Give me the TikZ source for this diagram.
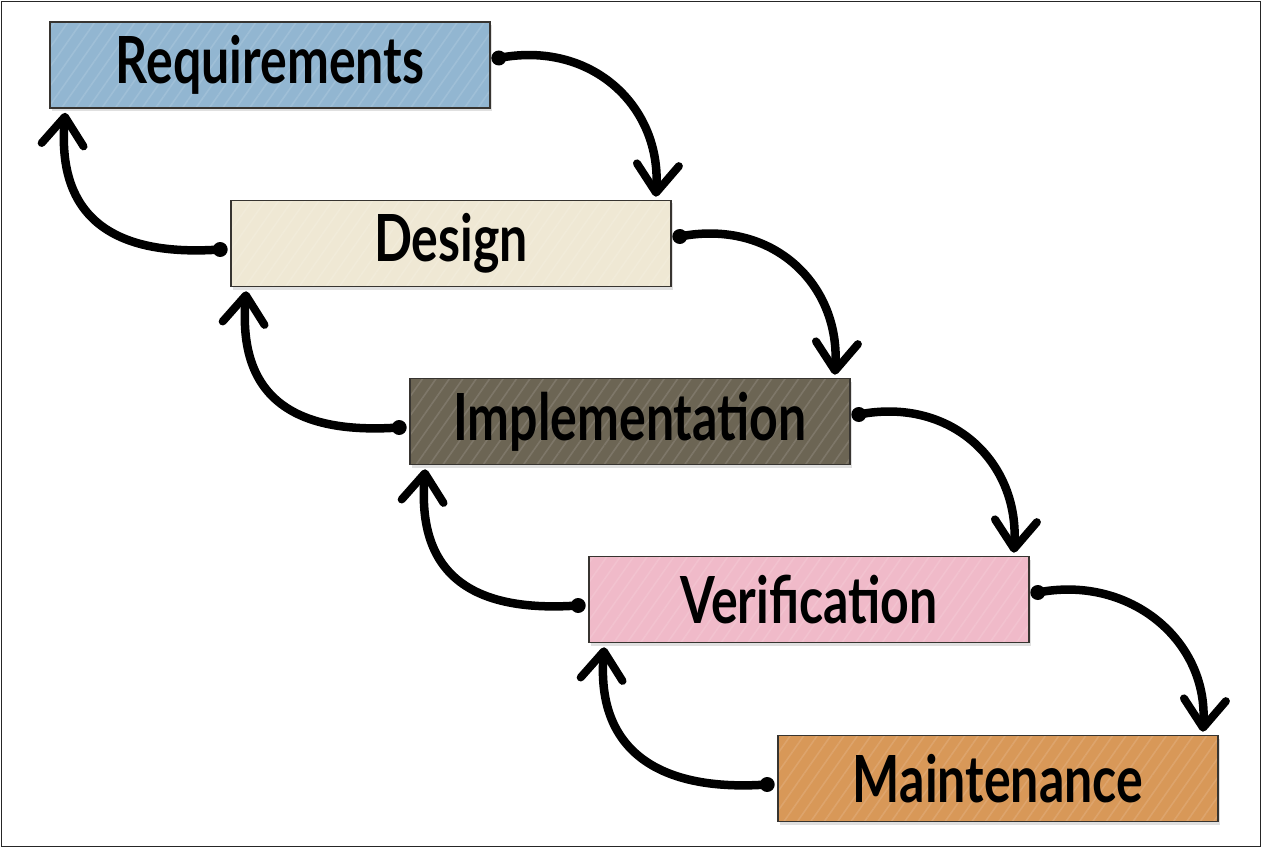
\documentclass[tikz,border=0pt]{standalone}
\usepackage{fontspec}
\setmainfont{Lato}[FakeStretch=0.77]
\usetikzlibrary{arrows.meta,calc,patterns.meta}
\definecolor{reqc}{RGB}{146,182,209}
\definecolor{desc}{RGB}{239,232,212}
\definecolor{impc}{RGB}{108,101,84}
\definecolor{verc}{RGB}{240,186,201}
\definecolor{maic}{RGB}{216,152,88}
\definecolor{edgec}{RGB}{55,52,48}
\tikzset{
  phase/.style={draw=edgec, line width=1.6pt, minimum width=440pt, minimum height=86pt,
    inner sep=0pt, font=\fontsize{65}{67}\selectfont\bfseries, text=black, fill=#1,
    preaction={fill=black, fill opacity=0.12, transform canvas={shift={(2pt,-3pt)}}},
    postaction={pattern={Lines[angle=55,distance=11pt,line width=1.6pt]}, pattern color=#1!88!white},
    postaction={draw=edgec, line width=1.6pt}},
  flow/.style={line width=8.5pt, line cap=round, draw=black,
    -{Straight Barb[length=28pt,width=42pt,round,line width=8pt]}},
  blob/.style={circle, fill=black, inner sep=0pt, minimum size=15pt}
}
\begin{document}
\begin{tikzpicture}[x=1pt,y=-1pt]
\useasboundingbox (0,0) rectangle (1262,848);
\draw[line width=1.5pt, draw=black!85] (1.5,1.5) rectangle (1260.5,846.5);

\node[phase=reqc] (req) at (270,65) {Requirements};
\node[phase=desc] (des) at (451,243.5) {Design};
\node[phase=impc] (imp) at (630,421.5) {Implementation};
\node[phase=verc] (ver) at (809,599.5) {Verification};
\node[phase=maic] (mai) at (998,778.5) {Maintenance};

% forward arrows (right side, downward)
\foreach \a/\b [count=\i] in {req/des, des/imp, imp/ver, ver/mai}{
  \coordinate (fs\i) at ($(\a.east)+(8,-7)$);
  \coordinate (fe\i) at ($(\b.north east)+(-16,-3)$);
  \node[blob] (fb\i) at (fs\i) {};
  \draw[flow] (fb\i.center) .. controls ($(fs\i)+(93,-18)$) and ($(fe\i)+(6,-90)$) .. (fe\i);
}
% backward arrows (left side, upward)
\foreach \a/\b [count=\i] in {des/req, imp/des, ver/imp, mai/ver}{
  \coordinate (bs\i) at ($(\a.west)+(-10,6)$);
  \coordinate (be\i) at ($(\b.south west)+(16,4)$);
  \node[blob] (bb\i) at (bs\i) {};
  \draw[flow] (bb\i.center) .. controls ($(bs\i)+(-115,8)$) and ($(be\i)+(-8,98)$) .. (be\i);
}
\end{tikzpicture}
\end{document}
